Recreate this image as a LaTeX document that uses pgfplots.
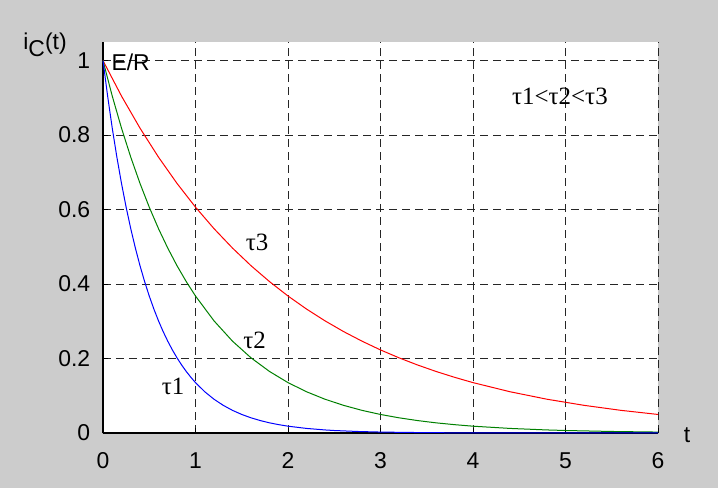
\documentclass[border=0pt]{standalone}
\usepackage{pgfplots}
\pgfplotsset{compat=1.18}
\usepackage{fontspec}
\setmainfont{Liberation Sans}
\newfontfamily\seriffont{Liberation Serif}
\definecolor{bggray}{RGB}{204,204,204}
\definecolor{mgreen}{RGB}{0,128,0}
\begin{document}
\fontsize{23}{27}\selectfont
\begin{tikzpicture}
\fill[bggray] (-103bp,-55bp) rectangle (615bp,433bp);
\begin{axis}[
  at={(0,0)}, anchor=south west,
  scale only axis, width=555bp, height=391bp,
  xmin=0, xmax=6, ymin=0, ymax=1.05,
  axis x line*=bottom, axis y line*=left,
  axis line style={black, line width=1.3bp, -},
  axis background/.style={fill=white},
  xtick={0,1,2,3,4,5,6},
  ytick={0,0.2,0.4,0.6,0.8,1},
  yticklabels={0,0.2,0.4,0.6,0.8,1},
  grid=major,
  major grid style={black!85, line width=1bp, dash pattern=on 8bp off 5bp},
  tick align=inside, major tick length=5bp,
  tick style={black, line width=1bp},
  /pgf/number format/assume math mode=true,
  tick label style={font=\fontsize{23}{27}\selectfont},
  xticklabel style={anchor=north, yshift=-12bp},
  yticklabel style={anchor=east, xshift=-5bp},
  clip=false,
]
\addplot[red, line width=1bp] coordinates {
(0,1) (0.2,0.9048) (0.4,0.8187) (0.6,0.7408) (0.8,0.6703) (1.0,0.6065)
(1.2,0.5488) (1.4,0.4966) (1.6,0.4493) (1.8,0.4066) (2.0,0.3679) (2.2,0.3329)
(2.4,0.3012) (2.6,0.2725) (2.8,0.2466) (3.0,0.2231) (3.2,0.2019) (3.4,0.1827)
(3.6,0.1653) (3.8,0.1496) (4.0,0.1353) (4.4,0.1108) (4.8,0.0907) (5.2,0.0743)
(5.6,0.0608) (6.0,0.0498)};
\addplot[mgreen, line width=1bp] coordinates {
(0,1) (0.1,0.9048) (0.2,0.8187) (0.3,0.7408) (0.4,0.6703) (0.5,0.6065)
(0.6,0.5488) (0.7,0.4966) (0.8,0.4493) (0.9,0.4066) (1.0,0.3679) (1.2,0.3012)
(1.4,0.2466) (1.6,0.2019) (1.8,0.1653) (2.0,0.1353) (2.2,0.1108) (2.4,0.0907)
(2.6,0.0743) (2.8,0.0608) (3.0,0.0498) (3.2,0.0408) (3.4,0.0334) (3.6,0.0273)
(3.8,0.0224) (4.0,0.0183) (4.4,0.0123) (4.8,0.0082) (5.0,0.0067) (5.5,0.0041)
(6.0,0.0025)};
\addplot[blue, line width=1bp] coordinates {
(0,1) (0.05,0.9048) (0.1,0.8187) (0.15,0.7408) (0.2,0.6703) (0.25,0.6065)
(0.3,0.5488) (0.35,0.4966) (0.4,0.4493) (0.45,0.4066) (0.5,0.3679) (0.55,0.3329)
(0.6,0.3012) (0.65,0.2725) (0.7,0.2466) (0.75,0.2231) (0.8,0.2019) (0.85,0.1827)
(0.9,0.1653) (0.95,0.1496) (1.0,0.1353) (1.1,0.1108) (1.2,0.0907) (1.3,0.0743)
(1.4,0.0608) (1.5,0.0498) (1.6,0.0408) (1.7,0.0334) (1.8,0.0273) (1.9,0.0224)
(2.0,0.0183) (2.2,0.0123) (2.4,0.0082) (2.5,0.0067) (2.75,0.0041) (3.0,0.0025)
(3.5,0.0009) (4.0,0.0003) (5.0,0.00005) (6.0,0.000006)};
\node[anchor=west, inner sep=0pt] at (axis cs:0.09,0.995) {E/R};
\node[font=\seriffont\fontsize{25}{29}\selectfont] at (axis cs:4.94,0.903) {τ1<τ2<τ3};
\node[font=\seriffont\fontsize{25}{29}\selectfont] at (axis cs:1.665,0.513) {τ3};
\node[font=\seriffont\fontsize{25}{29}\selectfont] at (axis cs:1.64,0.25) {τ2};
\node[font=\seriffont\fontsize{25}{29}\selectfont] at (axis cs:0.757,0.124) {τ1};
\node[inner sep=0pt] at (rel axis cs:0,1) [xshift=-58bp, yshift=-3bp] {i\raisebox{-7bp}{C}(t)};
\node at (rel axis cs:1,0) [xshift=29bp, yshift=-2bp] {t};
\end{axis}
\end{tikzpicture}
\end{document}
